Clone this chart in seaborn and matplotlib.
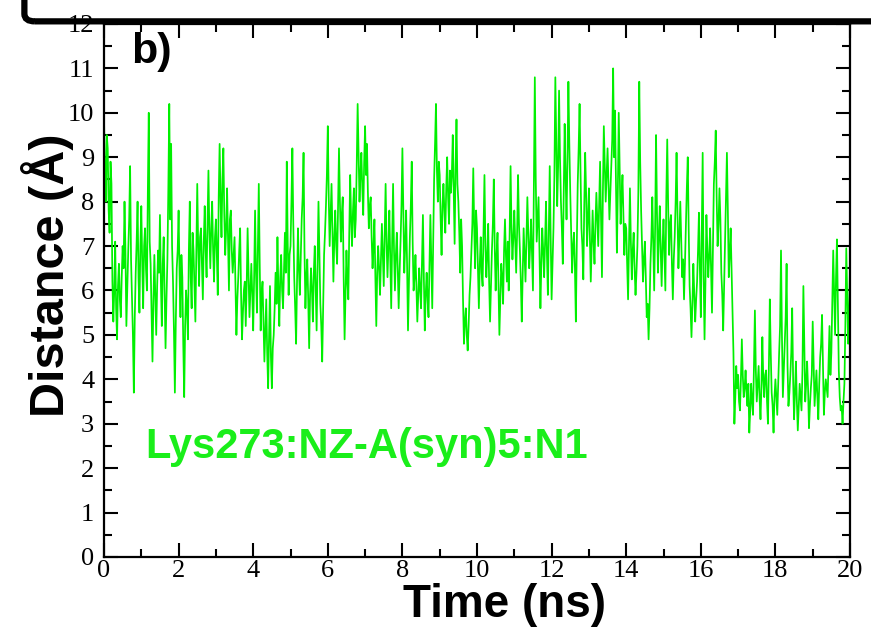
import numpy as np
import pandas as pd
import matplotlib
matplotlib.use("Agg")
import matplotlib.pyplot as plt
import seaborn as sns
from matplotlib.patches import FancyBboxPatch
from matplotlib.ticker import MultipleLocator

# distance (A), one list per nanosecond
# "ns" lists are samples at 0.00, 0.05, 0.10 ... ns; "half" lists at 0.025, 0.075 ... ns
ns00 = [9.9, 8.0, 9.2, 7.3, 8.4, 5.3, 7.1, 4.9, 6.6, 5.4, 7.0, 8.0, 5.2, 6.9, 8.8, 5.8, 3.7, 6.4, 8.0, 5.5]
ns01 = [7.9, 5.6, 7.4, 6.0, 10.0, 6.6, 4.4, 6.8, 5.0, 6.9, 7.7, 5.2, 7.2, 4.7, 6.7, 10.2, 9.3, 6.2, 3.7, 6.5]
ns02 = [7.8, 5.4, 6.3, 3.6, 6.0, 4.9, 8.0, 5.6, 6.9, 5.3, 8.4, 6.1, 7.4, 5.8, 7.9, 6.3, 8.7, 6.5, 8.0, 6.2]
ns03 = [7.6, 5.9, 9.3, 7.2, 9.2, 6.8, 8.3, 6.0, 7.8, 6.4, 7.2, 5.0, 6.3, 7.4, 4.9, 6.0, 5.2, 7.4, 5.4, 6.6]
ns04 = [5.1, 7.8, 5.5, 8.4, 5.1, 6.2, 4.4, 5.8, 3.8, 6.1, 3.8, 5.0, 6.4, 7.2, 5.2, 6.8, 5.6, 7.3, 8.9, 5.9]
ns05 = [7.0, 9.2, 6.3, 4.8, 7.4, 5.9, 7.6, 9.1, 5.6, 6.7, 4.7, 6.5, 5.3, 7.0, 5.1, 8.0, 5.7, 4.4, 6.8, 7.9]
ns06 = [9.7, 7.0, 8.4, 6.2, 7.8, 6.6, 9.2, 7.1, 8.1, 4.9, 6.9, 5.8, 8.6, 7.0, 8.3, 7.6, 10.2, 8.0, 9.1, 7.7]
ns07 = [9.7, 9.3, 7.4, 8.1, 6.5, 7.6, 5.2, 7.0, 5.9, 7.5, 6.1, 8.4, 6.3, 7.8, 5.6, 8.4, 6.0, 7.3, 5.6, 7.1]
ns08 = [9.2, 6.4, 7.8, 5.1, 7.2, 8.9, 6.0, 6.8, 5.3, 6.5, 5.6, 7.7, 5.1, 6.4, 5.4, 7.7, 5.6, 8.5, 10.2, 8.0]
ns09 = [8.6, 6.8, 8.4, 7.3, 9.0, 7.5, 8.2, 9.5, 7.05, 9.85, 8.0, 6.4, 7.0, 4.8, 5.6, 4.65, 5.9, 6.9, 8.75, 6.5]
ns10 = [7.4, 5.6, 7.2, 6.1, 8.6, 6.3, 7.5, 5.3, 6.9, 8.5, 6.0, 7.3, 5.0, 6.6, 5.7, 7.6, 6.2, 6.0, 8.8, 6.7]
ns11 = [7.8, 6.4, 8.6, 6.9, 5.3, 7.4, 6.2, 8.1, 6.5, 7.6, 6.0, 10.8, 7.1, 8.1, 5.6, 7.4, 6.3, 8.0, 5.9, 8.8]
ns12 = [5.8, 7.4, 10.8, 7.9, 10.5, 8.0, 6.6, 9.75, 7.6, 10.7, 8.2, 6.4, 7.3, 5.3, 8.4, 10.2, 7.4, 6.25, 9.1, 7.0]
ns13 = [8.3, 6.2, 7.8, 6.6, 8.2, 7.0, 8.9, 6.3, 9.7, 8.0, 9.2, 7.6, 8.8, 11.0, 10.05, 6.85, 10.0, 7.5, 8.6, 6.8]
ns14 = [7.4, 5.8, 8.3, 6.25, 7.3, 5.9, 7.0, 10.7, 7.8, 6.2, 7.1, 5.4, 4.9, 6.6, 8.1, 6.0, 9.5, 6.4, 7.9, 6.1]
ns15 = [7.6, 6.0, 9.4, 6.8, 7.7, 5.8, 7.2, 9.1, 6.5, 8.0, 6.3, 5.8, 7.5, 9.0, 6.1, 4.95, 6.6, 5.3, 6.2, 7.75]
ns16 = [5.4, 9.1, 4.9, 7.7, 6.3, 7.4, 5.5, 8.4, 9.6, 7.0, 8.3, 6.4, 5.1, 7.2, 9.1, 6.3, 7.4, 5.6, 3.0, 4.3]
ns17 = [4.1, 3.3, 4.9, 3.6, 4.2, 3.4, 2.8, 3.9, 3.2, 5.55, 3.5, 4.3, 3.1, 4.95, 3.6, 4.2, 3.0, 5.8, 3.7, 2.8]
ns18 = [4.0, 3.2, 4.6, 6.9, 3.6, 4.8, 6.6, 3.4, 4.1, 5.6, 3.1, 4.4, 2.85, 3.9, 3.3, 6.1, 3.5, 4.4, 2.9, 3.8]
ns19 = [5.3, 3.4, 4.2, 3.1, 4.5, 5.45, 3.2, 4.0, 3.6, 5.2, 4.6, 6.9, 5.0, 7.15, 4.2, 3.3, 3.0, 3.9, 6.95, 4.8]
last_value = [6.5]

half00 = [8.6, 9.5, 7.8, 8.9, 6.2, 6.0, 5.6, 6.1, 5.8, 6.3, 6.5, 6.9, 6.1, 7.6, 6.7, 5.0, 5.4, 7.1, 6.3, 7.0]
half01 = [6.6, 7.0, 6.5, 8.2, 7.1, 5.5, 5.8, 5.9, 6.1, 6.4, 6.2, 6.6, 5.9, 5.8, 8.3, 7.6, 7.0, 5.1, 5.3, 6.9]
half02 = [6.4, 6.8, 4.8, 5.2, 5.6, 6.9, 6.3, 7.3, 6.1, 6.8, 7.0, 7.2, 6.6, 7.1, 6.9, 7.5, 7.3, 7.4, 6.9, 7.2]
half03 = [6.8, 8.1, 8.0, 8.5, 7.7, 7.4, 7.1, 7.6, 6.9, 6.8, 6.1, 5.8, 6.9, 5.9, 5.5, 6.2, 6.1, 6.4, 6.0, 5.9]
half04 = [6.3, 6.4, 7.0, 6.6, 5.9, 5.3, 5.1, 4.6, 4.9, 4.5, 4.7, 5.6, 5.7, 6.0, 6.3, 6.0, 6.5, 6.4, 7.1, 6.8]
half05 = [8.0, 7.5, 5.6, 6.2, 6.5, 6.8, 8.1, 6.9, 6.3, 5.8, 5.9, 6.0, 6.4, 6.0, 6.6, 6.8, 5.2, 5.6, 7.3, 8.6]
half06 = [8.1, 7.7, 7.3, 7.2, 7.0, 7.9, 8.0, 7.7, 6.3, 5.9, 6.2, 7.3, 7.6, 7.8, 7.2, 8.8, 9.1, 8.6, 8.3, 8.9]
half07 = [8.6, 8.2, 7.9, 7.2, 7.0, 6.3, 6.4, 6.5, 6.7, 6.8, 7.2, 7.1, 7.0, 6.7, 7.1, 6.9, 6.8, 6.5, 6.4, 7.9]
half08 = [7.8, 7.0, 6.6, 6.2, 7.9, 7.1, 6.3, 6.1, 5.9, 6.0, 6.6, 6.3, 5.9, 5.8, 6.5, 6.6, 7.0, 9.3, 8.7, 8.9]
half09 = [7.6, 7.9, 7.8, 8.3, 8.1, 8.7, 8.6, 8.3, 8.8, 8.4, 7.3, 7.6, 5.8, 5.3, 5.0, 5.2, 6.3, 7.5, 7.4, 7.8]
half10 = [6.5, 6.6, 6.4, 7.3, 7.0, 6.8, 6.2, 6.1, 7.5, 7.0, 6.8, 6.1, 5.8, 6.3, 6.9, 6.8, 7.1, 7.3, 7.4, 7.2]
half11 = [7.1, 7.3, 7.5, 6.2, 6.4, 6.8, 7.2, 7.3, 7.0, 6.8, 8.3, 8.5, 7.6, 6.9, 6.6, 6.9, 7.1, 6.8, 7.3, 7.2]
half12 = [6.6, 8.6, 9.3, 8.8, 9.0, 7.4, 8.1, 8.6, 8.9, 9.3, 7.3, 7.0, 6.5, 7.0, 9.2, 8.7, 7.0, 7.9, 8.2, 7.6]
half13 = [7.3, 7.0, 7.1, 7.5, 7.6, 7.9, 7.6, 8.2, 8.8, 8.6, 8.4, 8.2, 9.4, 9.0, 8.4, 8.2, 8.7, 8.1, 7.7, 7.5]
half14 = [6.6, 7.0, 7.1, 6.9, 6.5, 6.4, 8.2, 8.9, 7.0, 6.7, 6.3, 5.7, 5.6, 7.2, 7.0, 7.4, 7.8, 7.2, 6.9, 7.0]
half15 = [6.8, 8.1, 7.9, 7.5, 6.6, 6.7, 8.0, 7.7, 7.2, 7.1, 6.7, 6.6, 8.3, 7.4, 5.6, 5.7, 5.9, 5.8, 6.9, 6.5]
half16 = [7.2, 6.3, 6.2, 6.9, 6.8, 6.4, 6.9, 8.9, 8.1, 7.5, 7.6, 5.9, 6.1, 8.0, 7.8, 6.8, 6.5, 4.6, 3.6, 3.8]
half17 = [3.5, 4.0, 4.1, 3.8, 3.7, 3.9, 3.3, 3.5, 4.3, 4.2, 3.9, 3.6, 3.8, 4.0, 4.1, 3.5, 4.3, 4.6, 3.4, 3.6]
half18 = [3.6, 3.9, 5.2, 5.0, 4.2, 5.4, 4.3, 3.7, 4.6, 4.0, 3.7, 3.5, 3.4, 3.6, 4.2, 4.8, 3.9, 3.8, 3.4, 4.1]
half19 = [4.4, 3.8, 3.6, 3.9, 4.8, 4.3, 3.7, 3.8, 4.4, 4.1, 5.8, 6.0, 6.3, 5.6, 3.6, 3.4, 3.5, 5.2, 5.9, 5.6]

dt = 0.05
x_ticks = [0, 2, 4, 6, 8, 10, 12, 14, 16, 18, 20]
y_ticks = list(range(0, 13))

main = (ns00 + ns01 + ns02 + ns03 + ns04 + ns05 + ns06 + ns07 + ns08 + ns09
        + ns10 + ns11 + ns12 + ns13 + ns14 + ns15 + ns16 + ns17 + ns18 + ns19 + last_value)
half = (half00 + half01 + half02 + half03 + half04 + half05 + half06 + half07 + half08 + half09
        + half10 + half11 + half12 + half13 + half14 + half15 + half16 + half17 + half18 + half19)

df = pd.concat([
    pd.DataFrame({"time": np.arange(len(main)) * dt, "dist": main}),
    pd.DataFrame({"time": np.arange(len(half)) * dt + dt / 2, "dist": half}),
]).sort_values("time").reset_index(drop=True)

sns.set_theme(style="ticks")
plt.rcParams["font.family"] = ["Liberation Sans", "DejaVu Sans"]

fig = plt.figure(figsize=(8.71, 6.28), dpi=100)
ax = fig.add_axes([0.1194, 0.1131, 0.8565, 0.8487])

green = "#00f000"
sns.lineplot(data=df, x="time", y="dist", ax=ax, color=green, linewidth=1.25,
             estimator=None, sort=False, legend=False)

ax.set_xlim(0, 20)
ax.set_ylim(0, 12)
ax.set_xticks(x_ticks)
ax.set_yticks(y_ticks)
ax.xaxis.set_minor_locator(MultipleLocator(1))
ax.yaxis.set_minor_locator(MultipleLocator(0.5))
ax.tick_params(which="both", direction="in", top=True, right=True, width=1.5, color="black")
ax.tick_params(which="major", length=10)
ax.tick_params(which="minor", length=5.5)
ax.tick_params(axis="x", which="major", pad=2)
ax.tick_params(axis="y", which="major", pad=7)
for lab in ax.get_xticklabels() + ax.get_yticklabels():
    lab.set_family(["Liberation Serif", "DejaVu Serif"])
    lab.set_fontsize(19)
    lab.set_color("black")
for sp in ax.spines.values():
    sp.set_linewidth(1.6)
    sp.set_color("black")

ax.set_xlabel("")
ax.set_ylabel("")
ax.text(0.5375, -0.1125, "Time (ns)", transform=ax.transAxes, fontsize=33,
        fontweight="bold", ha="center", va="baseline", color="black")
ax.text(-0.0764, 0.529, "Distance (Å)", transform=ax.transAxes, fontsize=35,
        fontweight="bold", ha="center", va="center", rotation=90, color="black")

ax.text(0.036, 0.985, "b)", transform=ax.transAxes, fontsize=31, fontweight="bold",
        va="top", ha="left", color="black")
ax.text(0.055, 0.206, "Lys273:NZ-A(syn)5:N1", transform=ax.transAxes, fontsize=30,
        fontweight="bold", va="center", ha="left", color="#1aee1a")

# edge of the neighbouring panel frame at the top of the image
fig.add_artist(FancyBboxPatch((0.028, 0.966), 1.2, 0.3,
                              boxstyle="round,pad=0,rounding_size=0.012",
                              transform=fig.transFigure, fill=False,
                              linewidth=4.5, edgecolor="black", clip_on=False))

fig.savefig("out.png", dpi=100, facecolor="white")
